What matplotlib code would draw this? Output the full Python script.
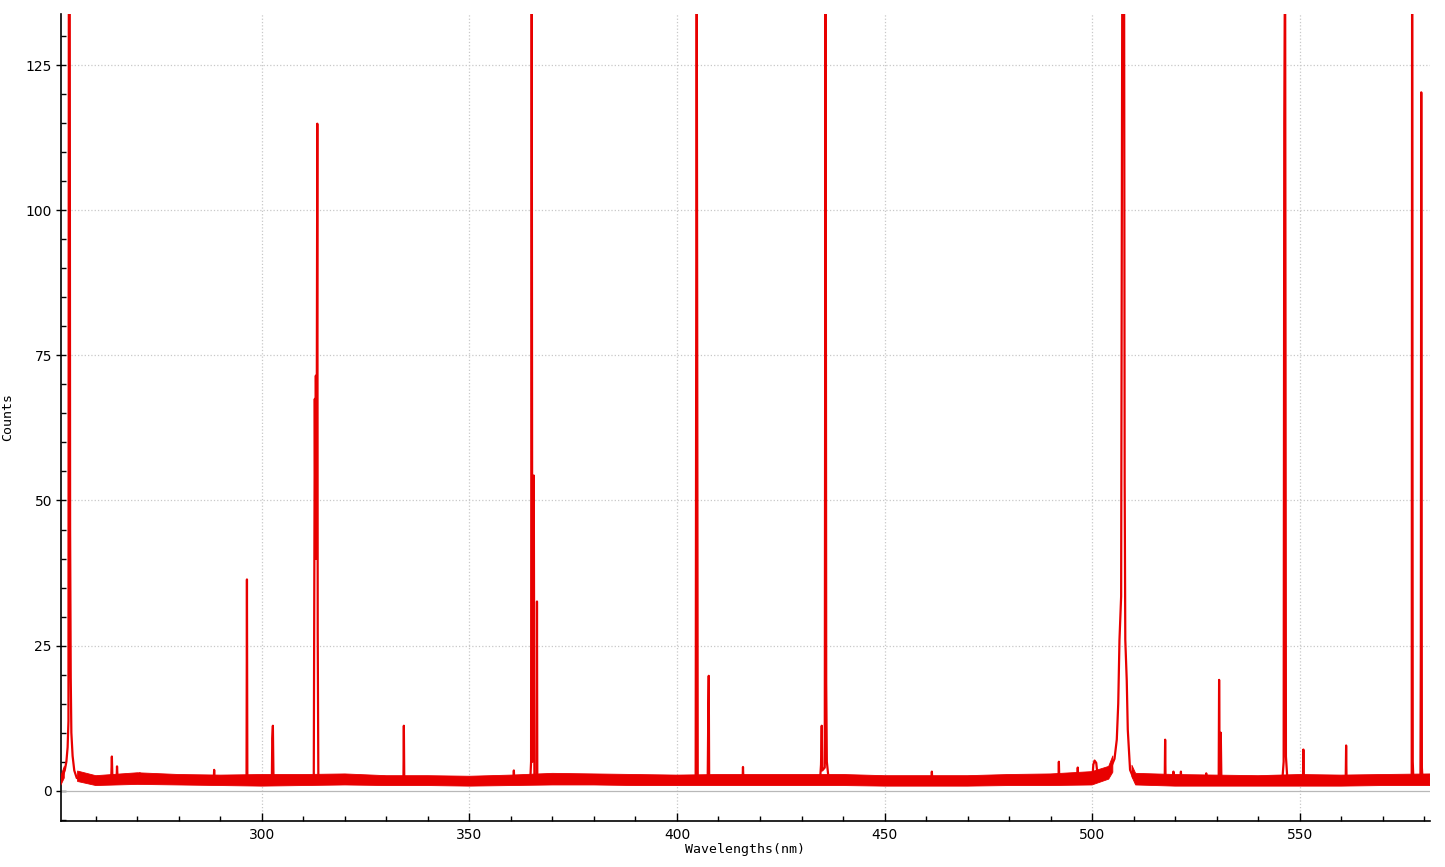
import numpy as np
import matplotlib.pyplot as plt
from matplotlib.ticker import MultipleLocator

# spectrum trace: (wavelength nm, counts)
# off-scale lines are given 150, they get clipped by the axes anyway
spec_nm = [
    251.6, 252.0, 252.5, 252.9, 253.2, 253.4, 253.5, 253.7, 253.8, 253.95, 254.1, 254.4, 254.8, 255.4,
    258.0, 263.7, 263.86, 264.0, 265.0, 265.1, 265.25, 270.4, 270.6, 270.8, 280.0,
    288.4, 288.5, 288.6, 296.3, 296.4, 296.5,
    302.4, 302.5, 302.65, 302.8,
    312.5, 312.75, 312.9, 313.0, 313.15, 313.35, 313.45, 313.6,
    334.1, 334.2, 334.3, 360.6, 360.7, 360.8,
    364.7, 364.85, 365.0, 365.15, 365.5, 365.65, 366.2, 366.27, 366.35,
    404.5, 404.75, 405.0, 407.4, 407.55, 407.65, 407.75, 415.8, 415.9, 416.0,
    434.5, 434.7, 434.87, 435.0, 435.6, 435.8, 435.95, 436.1, 436.5,
    461.3, 461.4, 461.5, 491.9, 492.0, 492.1, 496.45, 496.55, 496.65,
    500.1, 500.3, 500.6, 501.0, 501.3,
    504.3, 505.4, 505.95, 506.3, 506.6, 507.0, 507.3, 507.7, 507.85, 508.0, 508.35, 508.6, 509.15, 509.9,
    517.5, 517.6, 517.7, 519.5, 519.6, 519.7, 521.3, 521.4, 521.5, 527.4, 527.5, 527.6,
    530.5, 530.6, 530.75, 531.0, 531.15,
    545.9, 546.15, 546.3, 546.5, 546.7, 547.0,
    550.8, 550.9, 551.0, 561.1, 561.2, 561.3,
    577.0, 577.1, 577.25, 577.4, 579.1, 579.2, 579.3, 579.45, 579.6, 581.4,
]
spec_counts = [
    1.8, 2.6, 3.5, 5.0, 7.5, 12.0, 150, 150, 45.0, 19.5, 10.0, 6.0, 3.5, 2.2,
    1.9, 1.9, 5.9, 1.9, 1.9, 4.2, 1.9, 1.9, 3.0, 1.9, 1.9,
    1.9, 3.6, 1.9, 1.9, 36.4, 1.9,
    1.9, 9.0, 11.2, 1.9,
    2.5, 67.5, 40.0, 71.5, 40.0, 114.9, 27.0, 2.5,
    1.9, 11.2, 1.9, 1.9, 3.5, 1.9,
    2.5, 5.0, 150, 5.0, 54.3, 1.9, 1.9, 32.6, 1.9,
    2.5, 150, 2.5, 1.9, 14.3, 19.8, 1.9, 1.9, 4.1, 1.9,
    2.2, 4.5, 11.2, 3.5, 4.0, 150, 18.6, 5.0, 2.2,
    1.9, 3.3, 1.9, 1.9, 5.0, 1.9, 1.9, 4.0, 1.9,
    2.4, 4.5, 5.2, 4.8, 2.8,
    3.6, 5.5, 8.8, 15.0, 26.0, 33.5, 150, 150, 53.0, 26.0, 19.0, 10.5, 3.6, 2.3,
    1.9, 8.8, 1.9, 1.9, 3.3, 1.9, 1.9, 3.3, 1.9, 1.9, 3.0, 1.9,
    1.9, 19.1, 2.0, 10.0, 2.0,
    2.5, 5.0, 115.0, 150, 5.9, 2.5,
    1.9, 7.1, 1.9, 1.9, 7.8, 1.9,
    2.0, 150, 5.0, 2.0, 2.0, 24.0, 120.3, 4.0, 2.0, 2.0,
]

# envelope of the noisy baseline (low / high edge of the band), nan where a broad line sits
band_nm = [251.6, 252.4, 252.8, 255.0, 255.6, 260, 270, 280, 290, 300, 310, 320, 330, 340, 350, 360,
           370, 380, 390, 400, 410, 420, 430, 440, 450, 460, 470, 480, 490, 500, 504.0, 505.0,
           505.2, 509.4, 509.6, 510.5, 520, 530, 540, 550, 560, 570, 581.4]
band_lo = [1.0, 2.2, np.nan, np.nan, 1.6, 0.9, 1.1, 1.0, 0.9, 0.8, 0.9, 1.0, 0.9, 0.9, 0.8, 0.9,
           1.0, 1.0, 0.9, 0.9, 0.9, 0.9, 0.9, 0.9, 0.8, 0.8, 0.8, 0.9, 0.9, 1.0, 2.0, 3.2,
           np.nan, np.nan, 2.4, 1.0, 0.8, 0.8, 0.8, 0.8, 0.8, 0.9, 0.9]
band_hi = [2.6, 4.2, np.nan, np.nan, 3.4, 2.6, 3.1, 2.8, 2.7, 2.8, 2.8, 2.9, 2.6, 2.6, 2.5, 2.7,
           3.0, 2.9, 2.8, 2.7, 2.8, 2.8, 2.8, 2.8, 2.6, 2.6, 2.6, 2.8, 2.9, 3.3, 4.2, 6.0,
           np.nan, np.nan, 4.4, 3.0, 2.8, 2.7, 2.6, 2.8, 2.7, 2.8, 2.9]

red = '#e80000'

fig = plt.figure(figsize=(14.45, 8.67), dpi=100)
ax = fig.add_axes([0.0422, 0.0531, 0.9474, 0.9308])

ax.fill_between(band_nm, band_lo, band_hi, color=red, lw=0.6, zorder=3)
ax.plot(spec_nm, spec_counts, color=red, lw=1.6, zorder=4)
ax.axhline(0, color='#b8b8b8', lw=0.9, zorder=2)

ax.set_xlim(251.6, 581.4)
ax.set_ylim(-5.2, 133.8)

ax.xaxis.set_major_locator(MultipleLocator(50))
ax.xaxis.set_minor_locator(MultipleLocator(10))
ax.yaxis.set_major_locator(MultipleLocator(25))
ax.yaxis.set_minor_locator(MultipleLocator(5))

# dotted grid, the 0 line is drawn solid instead
for x in range(300, 581, 50):
    ax.axvline(x, color='#c8c8c8', ls=':', lw=0.9, zorder=1)
for y in range(25, 134, 25):
    ax.axhline(y, color='#c8c8c8', ls=':', lw=0.9, zorder=1)

for s in ['top', 'right']:
    ax.spines[s].set_visible(False)
for s in ['left', 'bottom']:
    ax.spines[s].set_linewidth(1.2)

ax.tick_params(axis='x', which='major', direction='in', length=6, width=1, labelsize=10, pad=5)
ax.tick_params(axis='x', which='minor', direction='in', length=3.5, width=1)
ax.tick_params(axis='y', which='major', direction='inout', length=7, width=1, labelsize=10, pad=3)
ax.tick_params(axis='y', which='minor', direction='in', length=3.5, width=1)

ax.set_xlabel('Wavelengths(nm)', family='DejaVu Sans Mono', fontsize=9.5, labelpad=1)
ax.set_ylabel('Counts', family='DejaVu Sans Mono', fontsize=9.5)
ax.yaxis.set_label_coords(-0.034, 0.5)

fig.savefig('out.png', dpi=100)
